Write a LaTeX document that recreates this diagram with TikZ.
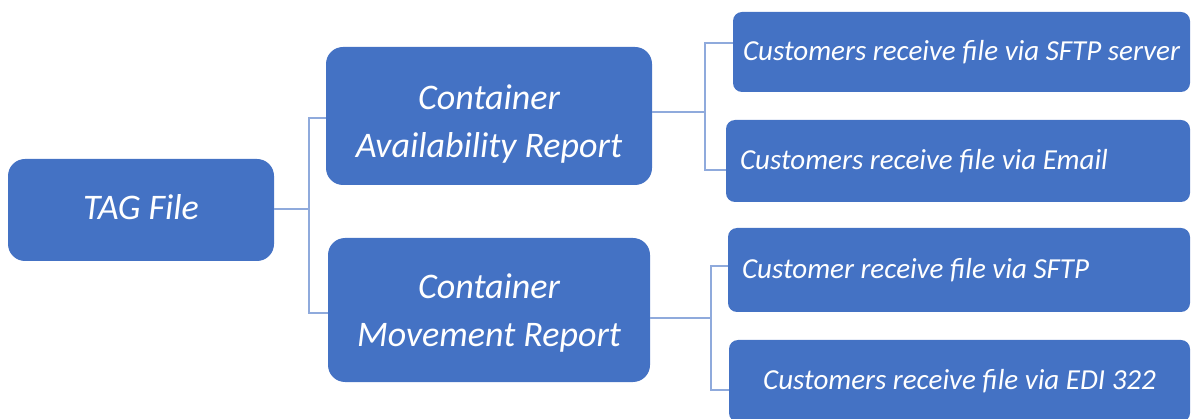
\documentclass[tikz,border=0pt]{standalone}
\usepackage{fontspec}
\setmainfont{Carlito}
\definecolor{boxblue}{HTML}{4472C4}
\definecolor{linkblue}{HTML}{8FAADC}

\begin{document}
\begin{tikzpicture}[x=1pt,y=-1pt]
\tikzstyle{box}=[fill=boxblue, text=white, inner sep=0pt, align=center]
\tikzstyle{big}=[box, rounded corners=17pt]
\tikzstyle{bigtext}=[text=white, inner sep=0pt, align=center, font=\fontsize{36}{48}\selectfont\itshape]
\tikzstyle{leaf}=[box, rounded corners=9pt, font=\fontsize{29}{34}\selectfont\itshape]
\tikzstyle{link}=[linkblue, line width=1.5pt]
\useasboundingbox (0,0) rectangle (1191,419);
\begin{scope}
\clip (0,0) rectangle (1191,419);
% source
\node[big, minimum width=266pt, minimum height=102pt] (tag) at (141,210) {};
\node[bigtext] (tagtext) at ([yshift=3pt]tag.center) {TAG File};
% reports
\node[big, minimum width=326pt, minimum height=138pt] (car) at (489,116) {};
\node[bigtext] (cartext) at ([yshift=-8pt]car.center) {Container\\Availability Report};
\node[big, minimum width=322pt, minimum height=144pt] (cmr) at (489,310) {};
\node[bigtext] (cmrtext) at ([yshift=-3pt]cmr.center) {Container\\Movement Report};
% delivery
\node[leaf, minimum width=457pt, minimum height=80pt, text height=24pt, text depth=6pt] (sftpserver) at (961.5,52) {Customers receive file via SFTP server};
\node[leaf, minimum width=464pt, minimum height=82pt, text width=436pt, align=flush left] (email) at (958,161) {Customers receive file via Email};
\node[leaf, minimum width=462pt, minimum height=84pt, text width=434pt, align=flush left] (sftp) at (959,270) {Customer receive file via SFTP};
\node[leaf, minimum width=461pt, minimum height=82pt] (edi) at (959.5,381) {Customers receive file via EDI 322};
\end{scope}
% connectors
\coordinate (tagfork) at (309,209);
\coordinate (carfork) at (705,112);
\coordinate (cmrfork) at (711,318);
\draw[link] ([yshift=1pt]tag.east) -- (tagfork);
\draw[link] ([yshift=-2pt]car.west) -| (tagfork) |- ([yshift=-3pt]cmr.west);
\draw[link] ([yshift=4pt]car.east) -- (carfork);
\draw[link] ([yshift=9pt]sftpserver.west) -| (carfork) |- ([yshift=-9pt]email.west);
\draw[link] ([yshift=-8pt]cmr.east) -- (cmrfork);
\draw[link] ([yshift=4pt]sftp.west) -| (cmrfork) |- ([yshift=-9pt]edi.west);
\end{tikzpicture}
\end{document}
